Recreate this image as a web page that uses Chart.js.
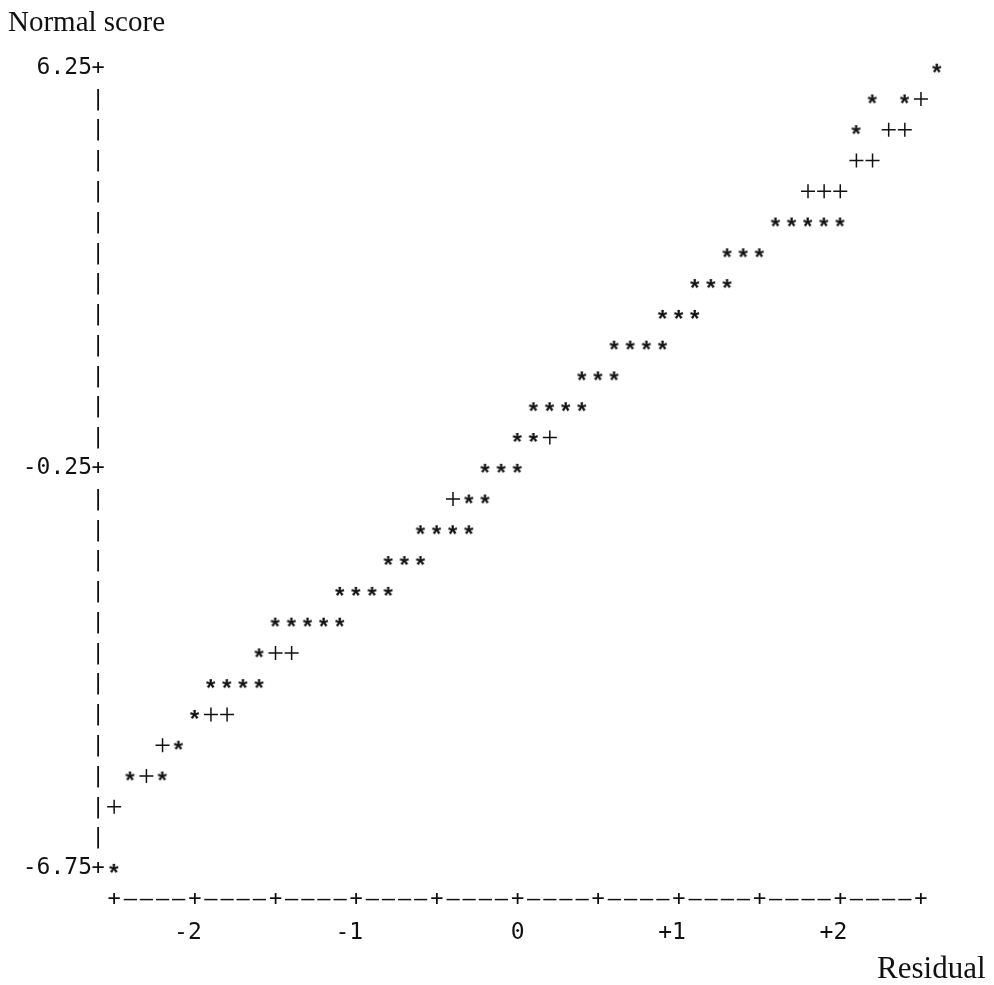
<!DOCTYPE html>
<html>
<head>
<meta charset="utf-8">
<title>Normal score vs Residual</title>
<script src="https://cdn.jsdelivr.net/npm/chart.js@4.4.1/dist/chart.umd.min.js"></script>
<style>
  html, body { margin: 0; padding: 0; background: #fff; overflow: hidden; }
  #wrap { width: 994px; height: 985px; }
</style>
</head>
<body>
<div id="wrap"><canvas id="plot"></canvas></div>
<script>
// '*' = observed residuals, '+' = reference line
const starResidual = [2.6, 2.2, 2.4, 2.1, 1.6, 1.7, 1.8, 1.9, 2.0, 1.3, 1.4, 1.5, 1.1, 1.2, 1.3,
  0.9, 1.0, 1.1, 0.6, 0.7, 0.8, 0.9, 0.4, 0.5, 0.6, 0.1, 0.2, 0.3, 0.4, 0.0, 0.1,
  -0.2, -0.1, 0.0, -0.3, -0.2, -0.6, -0.5, -0.4, -0.3, -0.8, -0.7, -0.6,
  -1.1, -1.0, -0.9, -0.8, -1.5, -1.4, -1.3, -1.2, -1.1, -1.6, -1.9, -1.8, -1.7, -1.6,
  -2.0, -2.1, -2.4, -2.2, -2.5];
const starScore = [6.25, 5.75, 5.75, 5.25, 3.75, 3.75, 3.75, 3.75, 3.75, 3.25, 3.25, 3.25, 2.75, 2.75, 2.75,
  2.25, 2.25, 2.25, 1.75, 1.75, 1.75, 1.75, 1.25, 1.25, 1.25, 0.75, 0.75, 0.75, 0.75, 0.25, 0.25,
  -0.25, -0.25, -0.25, -0.75, -0.75, -1.25, -1.25, -1.25, -1.25, -1.75, -1.75, -1.75,
  -2.25, -2.25, -2.25, -2.25, -2.75, -2.75, -2.75, -2.75, -2.75, -3.25, -3.75, -3.75, -3.75, -3.75,
  -4.25, -4.75, -5.25, -5.25, -6.75];

const refResidual = [2.5, 2.3, 2.4, 2.1, 2.2, 1.8, 1.9, 2.0, 0.2, -0.4, -1.5, -1.4, -1.9, -1.8, -2.2, -2.3, -2.5];
const refScore = [5.75, 5.25, 5.25, 4.75, 4.75, 4.25, 4.25, 4.25, 0.25, -0.75, -3.25, -3.25, -4.25, -4.25, -4.75, -5.25, -5.75];

const yTickValues = [6.25, -0.25, -6.75];
const yTickLabels = ['6.25', '-0.25', '-6.75'];
const xTickValues = [-2, -1, 0, 1, 2];
const xTickLabels = ['-2', '-1', '0', '+1', '+2'];
const xAxisMarks = [-2.5, -2, -1.5, -1, -0.5, 0, 0.5, 1, 1.5, 2, 2.5];

const INK = '#111';
const MONO = '"DejaVu Sans Mono", monospace';
const SERIF = '"Liberation Serif", "Times New Roman", serif';

// draw a glyph tightly into its own little canvas, to use as a point style
function glyph(ch, font) {
  const probe = document.createElement('canvas').getContext('2d');
  probe.font = font;
  const m = probe.measureText(ch);
  const w = Math.ceil(m.actualBoundingBoxLeft + m.actualBoundingBoxRight) + 2;
  const h = Math.ceil(m.actualBoundingBoxAscent + m.actualBoundingBoxDescent) + 2;
  const c = document.createElement('canvas');
  c.width = w; c.height = h;
  const g = c.getContext('2d');
  g.font = font;
  g.fillStyle = INK;
  g.fillText(ch, 1 + m.actualBoundingBoxLeft, 1 + m.actualBoundingBoxAscent);
  return c;
}
const starMark = glyph('*', 'bold 24px "Liberation Sans"');

// the axes are typed out like the line-printer original
const textAxes = {
  id: 'textAxes',
  beforeDatasetsDraw(chart) {
    const { ctx, scales: { x, y } } = chart;
    ctx.save();
    ctx.font = '22px ' + MONO;
    ctx.fillStyle = INK;
    ctx.textAlign = 'center';
    ctx.textBaseline = 'middle';

    const ax = x.getPixelForValue(x.min);
    const top = yTickValues[0], bottom = yTickValues[yTickValues.length - 1];
    for (let v = top; v >= bottom - 1e-9; v -= 0.5) {
      const isTick = yTickValues.some(t => Math.abs(t - v) < 1e-9);
      ctx.fillText(isTick ? '+' : '|', ax, y.getPixelForValue(v));
    }

    const ay = y.getPixelForValue(bottom - 0.5);
    xAxisMarks.forEach((m, i) => {
      ctx.fillText('+', x.getPixelForValue(m), ay);
      if (i < xAxisMarks.length - 1) {
        for (let k = 1; k < 5; k++) ctx.fillText('\u2013', x.getPixelForValue(m + k * 0.1), ay);
      }
    });
    ctx.restore();
  }
};

new Chart(document.getElementById('plot'), {
  type: 'scatter',
  data: {
    datasets: [{
      label: 'Residual',
      data: starResidual.map((r, i) => ({ x: r, y: starScore[i] })),
      pointStyle: starMark,
      pointRadius: 6,
      borderColor: INK,
      backgroundColor: INK
    }, {
      label: 'Reference',
      data: refResidual.map((r, i) => ({ x: r, y: refScore[i] })),
      pointStyle: 'cross',
      pointRadius: 7,
      borderWidth: 1.5,
      borderColor: INK,
      backgroundColor: INK
    }]
  },
  options: {
    responsive: true,
    maintainAspectRatio: false,
    animation: false,
    events: [],
    layout: { padding: { left: 8, right: 6, top: 0, bottom: 0 } },
    plugins: {
      legend: { display: false },
      tooltip: { enabled: false },
      title: {
        display: true,
        text: 'Normal score',
        align: 'start',
        color: INK,
        font: { family: SERIF, size: 29, weight: 'normal', lineHeight: 1.2 },
        padding: { top: 6, bottom: 12 }
      }
    },
    scales: {
      x: {
        type: 'linear',
        min: -2.6,
        max: 2.9,
        border: { display: false },
        grid: { display: false, drawTicks: false },
        afterBuildTicks: s => { s.ticks = xTickValues.map(v => ({ value: v })); },
        afterFit: s => { s.height = 70.5; },
        ticks: {
          autoSkip: false,
          maxRotation: 0,
          align: 'end',
          labelOffset: 7,
          padding: 5,
          color: INK,
          font: { family: MONO, size: 23 },
          callback: v => xTickLabels[xTickValues.indexOf(v)]
        },
        title: {
          display: true,
          text: 'Residual',
          align: 'end',
          color: INK,
          font: { family: SERIF, size: 31, lineHeight: 1 },
          padding: { top: 0, bottom: 0 }
        }
      },
      y: {
        type: 'linear',
        min: -7.5,
        max: 6.5,
        border: { display: false },
        grid: { display: false, drawTicks: false },
        afterBuildTicks: s => { s.ticks = yTickValues.map(v => ({ value: v })); },
        afterFit: s => { s.width = 90; },
        ticks: {
          autoSkip: false,
          padding: 6,
          color: INK,
          font: { family: MONO, size: 23 },
          callback: v => yTickLabels[yTickValues.indexOf(v)]
        }
      }
    }
  },
  plugins: [textAxes]
});
</script>
</body>
</html>
